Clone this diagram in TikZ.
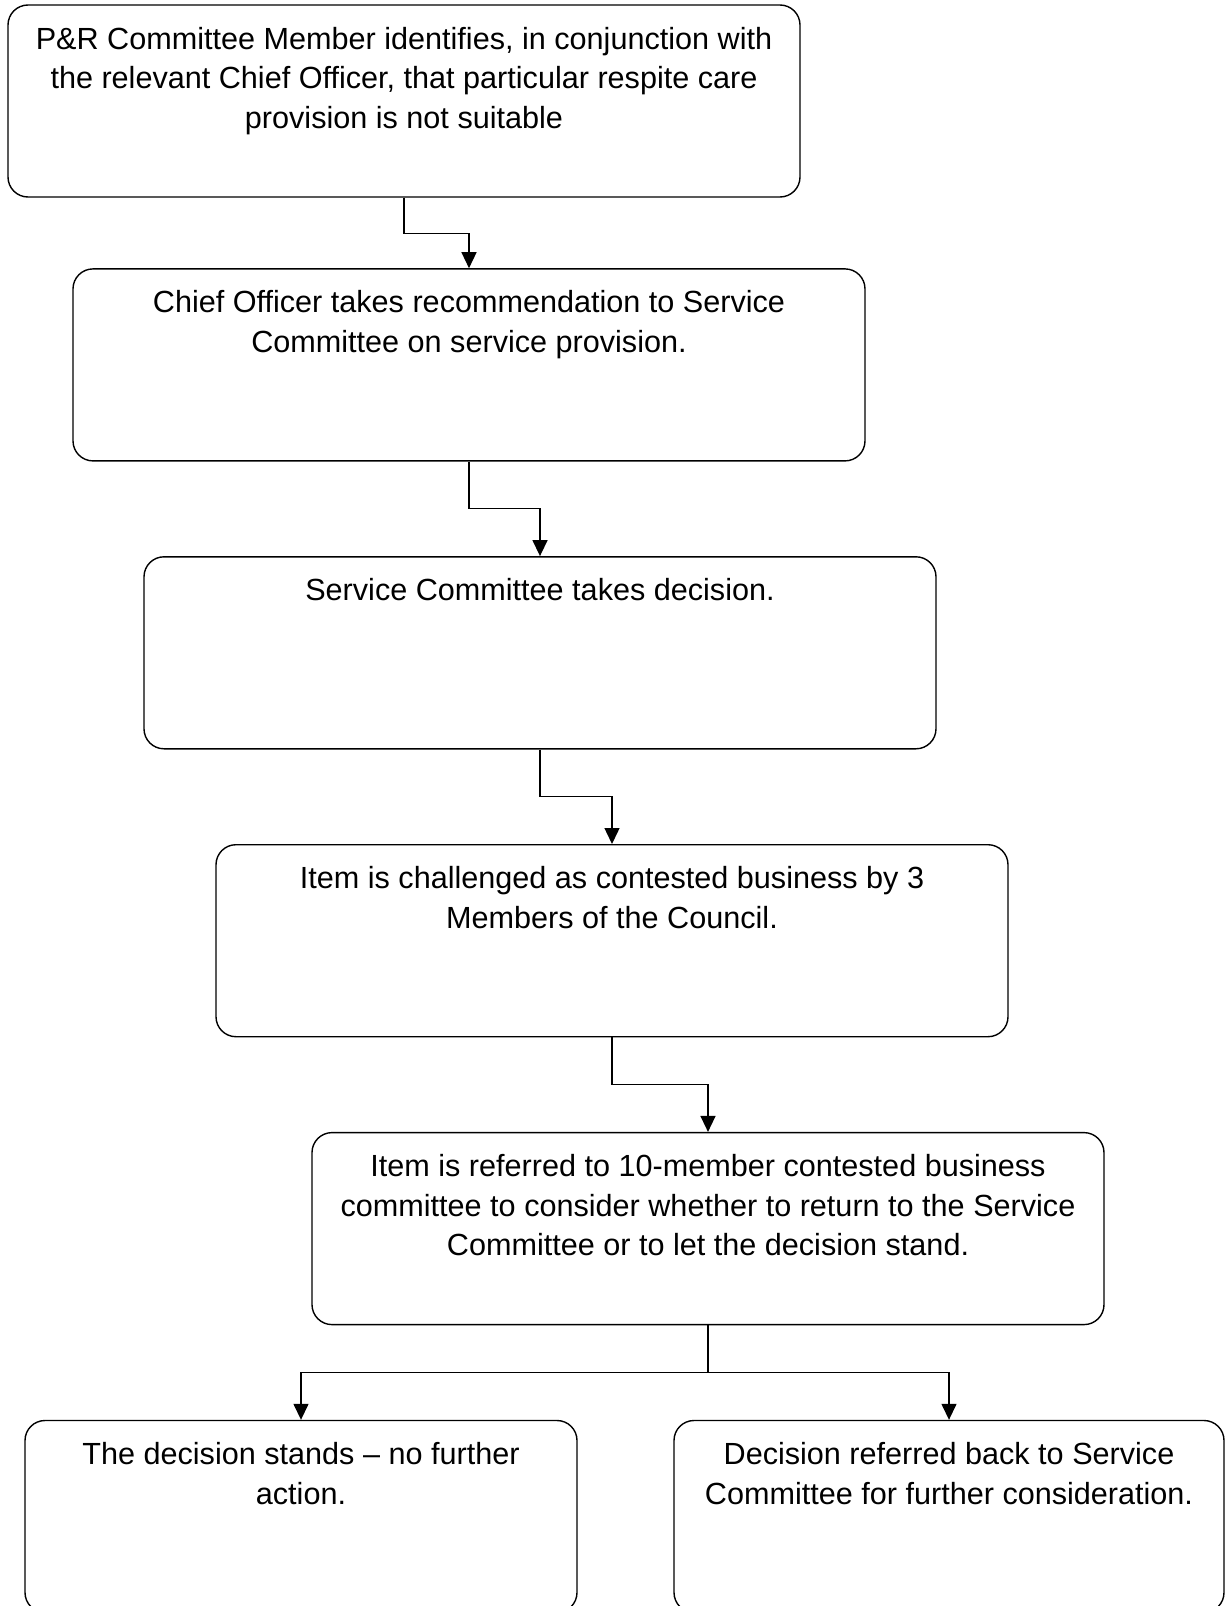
\documentclass[tikz,border=0pt]{standalone}
\usepackage{fontspec}
\setmainfont{Liberation Sans}
\usepackage{tikz}
\usetikzlibrary{
  arrows.meta,
  positioning
}
\newcommand{\topbox}[2]{\parbox[t][192pt][t]{#1}{\centering\rule{0pt}{44pt}#2}}

\begin{document}
\begin{tikzpicture}[
  procbox/.style={draw, line width=1.4pt, rounded corners=20pt, inner sep=0pt,
               font=\fontsize{30.6pt}{39.5pt}\selectfont},
  arr/.style={-{Triangle[length=16pt, width=15pt]}, line width=1.4pt},
  node distance=94.5pt
]
  \useasboundingbox (0pt,0pt) rectangle (1224pt,-1606pt);

  \node[procbox] (b1) at (404pt,-101pt) {\topbox{792pt}{P\&R Committee Member identifies, in conjunction with\\
    the relevant Chief Officer, that particular respite care\\ provision is not suitable}};
  \node[procbox, below=70.5pt of b1, xshift=65pt] (b2) {\topbox{792pt}{Chief Officer takes recommendation to Service\\
    Committee on service provision.}};
  \node[procbox, below=of b2, xshift=71pt] (b3) {\topbox{792pt}{Service Committee takes decision.}};
  \node[procbox, below=of b3, xshift=72pt] (b4) {\topbox{792pt}{Item is challenged as contested business by 3\\
    Members of the Council.}};
  \node[procbox, below=of b4, xshift=96pt] (b5) {\topbox{792pt}{Item is referred to 10-member contested business\\
    committee to consider whether to return to the Service\\ Committee or to let the decision stand.}};
  \node[procbox, below=of b5, xshift=-407pt] (b6) {\topbox{552pt}{The decision stands -- no further\\ action.}};
  \node[procbox, below=of b5, xshift=241pt] (b7) {\topbox{550pt}{Decision referred back to Service\\
    Committee for further consideration.}};

  \draw[arr] (b1.south) -- ++(0,-36pt) -| (b2.north);
  \draw[arr] (b2.south) -- ++(0,-47pt) -| (b3.north);
  \draw[arr] (b3.south) -- ++(0,-47pt) -| (b4.north);
  \draw[arr] (b4.south) -- ++(0,-47pt) -| (b5.north);
  \draw[arr] (b5.south) -- ++(0,-47pt) -| (b6.north);
  \draw[arr] (b5.south) -- ++(0,-47pt) -| (b7.north);
\end{tikzpicture}
\end{document}
